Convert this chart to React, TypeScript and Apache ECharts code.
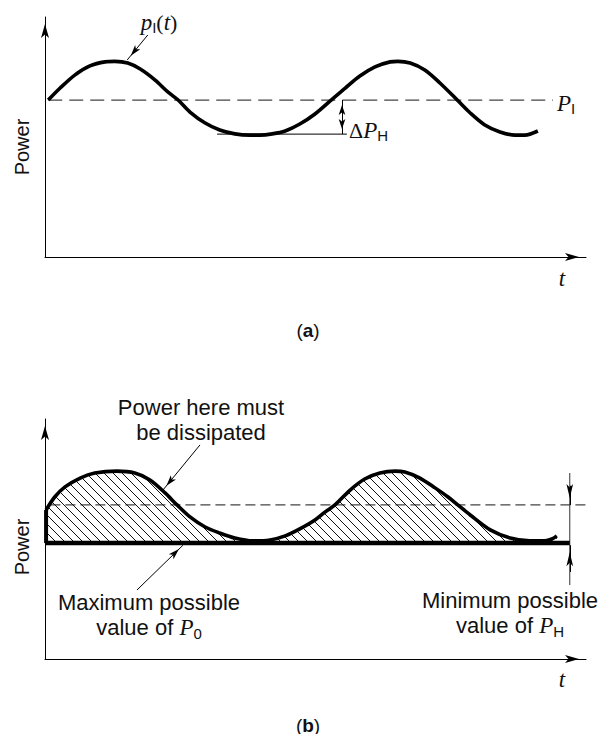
import React, { useEffect, useRef } from "react";
import * as echarts from "echarts";

// ---- Data (t in arbitrary units 0..100, power in arbitrary units 0..100) ----
// Panel (a): instantaneous power p_I(t)
const tA = [0.6, 2.8, 5.5, 8.3, 11.1, 12.9, 15.3, 17.6, 20.3, 22.7, 24.6, 26.8, 29.6, 32.3, 35.1, 37.9, 39.7, 42.0, 44.4, 47.1, 49.9, 52.9, 55.5, 58.2, 61.0, 63.8, 65.2, 67.5, 70.2, 73.0, 76.2, 78.6, 81.3, 84.1, 86.9, 88.7, 91.1];
const powerA = [65.4, 70.4, 75.8, 79.6, 81.3, 81.5, 80.8, 78.3, 73.8, 68.8, 65.4, 60.4, 55.8, 52.9, 51.3, 50.8, 50.8, 51.3, 52.5, 55.4, 59.6, 65.4, 70.4, 75.4, 79.2, 81.3, 81.5, 80.8, 77.9, 72.5, 65.4, 60.0, 55.0, 52.1, 50.8, 50.8, 52.5];
const meanA = 65.4; // P_I
const troughA = 51.2; // P_I - ΔP_H
const meanLineA = [0.6, 93.9]; // extent of dashed P_I line
const troughLineA = [31.8, 55.8];

// Panel (b): same waveform, with baseline at its minimum
const tB = [0.2, 1.8, 3.7, 6.5, 9.2, 13.3, 16.6, 19.4, 22.2, 24.4, 26.8, 29.6, 32.3, 35.1, 38.4, 41.6, 44.4, 47.1, 49.9, 51.8, 53.6, 56.4, 59.1, 61.9, 64.7, 66.5, 69.3, 72.1, 74.5, 76.3, 78.6, 82.3, 86.0, 89.6, 92.4, 93.7, 94.6];
const powerB = [62.1, 67.5, 71.7, 75.4, 77.5, 78.3, 77.5, 74.6, 69.2, 64.2, 59.2, 55.0, 52.5, 50.4, 49.2, 49.6, 51.3, 54.2, 57.9, 61.3, 64.2, 70.4, 75.0, 77.5, 78.3, 77.9, 75.4, 71.3, 67.5, 64.2, 60.0, 53.8, 50.4, 49.2, 49.2, 50.0, 51.3];
const meanB = 64.2;
const baseB = 48.3;
const baseLineB = [0, 97.0];
const meanLineB = [1.0, 100];
const markerXB = 97.0;
const markerSpanB = [77.5, 30.8];

// ---- Annotation arrow anchors (data coords) ----
const arrowPA = { from: [19.0, 92.5], to: [15.2, 82.1] };
const deltaArrowX = 54.9;
const arrowDissipated = { from: [28.65, 89.2], to: [21.8, 70.4] };
const arrowMaxP0 = { from: [17.0, 28.75], to: [25.5, 47.4] };

const SANS = '"Liberation Sans", Arial, Helvetica, sans-serif';
const SERIF = '"Liberation Serif", "Times New Roman", serif';

const hatchSvg =
  '<svg xmlns="http://www.w3.org/2000/svg" width="9" height="9">' +
  '<path d="M-1,-1 L10,10 M-1,8 L1,10 M8,-1 L10,1" stroke="#111" stroke-width="1"/></svg>';
const hatchUrl = "data:image/svg+xml;charset=utf-8," + encodeURIComponent(hatchSvg);

const zip = (xs: number[], ys: number[]) => xs.map((x, i) => [x, ys[i]]);

function arrowItem(from: number[], to: number[], both = false, size = [5, 11]) {
  const off = [0, size[1] / 2];
  return [
    { coord: from, symbol: both ? "arrow" : "none", symbolSize: size, symbolOffset: off },
    { coord: to, symbol: "arrow", symbolSize: size, symbolOffset: off },
  ];
}

const markLineBase = {
  silent: true,
  animation: false,
  label: { show: false },
  emphasis: { disabled: true },
  lineStyle: { color: "#000", width: 1, type: "solid" as const },
};

const axisCommon = {
  type: "value" as const,
  min: 0,
  max: 100,
  axisLine: {
    show: true,
    onZero: false,
    lineStyle: { color: "#000", width: 1 },
    symbol: ["none", "arrow"],
    symbolSize: [6, 14],
    symbolOffset: [0, -7],
  },
  axisTick: { show: false },
  axisLabel: { show: false },
  splitLine: { show: false },
};

const mathRich = {
  it: { fontFamily: SERIF, fontStyle: "italic", fontSize: 23, lineHeight: 26, fill: "#111", verticalAlign: "middle" },
  rm: { fontFamily: SERIF, fontSize: 22, lineHeight: 26, fill: "#111" },
  sub: { fontFamily: SANS, fontSize: 15, lineHeight: 26, fill: "#111", verticalAlign: "bottom" },
  n: { fontFamily: SANS, fontSize: 22, lineHeight: 25, fill: "#111" },
  bd: { fontFamily: SANS, fontSize: 19, lineHeight: 22, fontWeight: "bold", fill: "#111" },
  pr: { fontFamily: SANS, fontSize: 19, lineHeight: 22, fill: "#111" },
};

function txt(x: number, y: number, text: string, extra: any = {}) {
  return {
    type: "text",
    x,
    y,
    silent: true,
    style: {
      text,
      rich: mathRich,
      fill: "#111",
      font: `22px ${SANS}`,
      align: "center",
      verticalAlign: "middle",
      ...extra,
    },
  };
}

export default function App() {
  const ref = useRef<HTMLDivElement>(null);
  useEffect(() => {
    if (!ref.current) return;
    const chart = echarts.init(ref.current, null, { renderer: "svg" });
    const option: any = {
      animation: false,
      backgroundColor: "#fff",
      grid: [
        { left: 45, top: 17, width: 541, height: 240 },
        { left: 45, top: 419, width: 541, height: 240 },
      ],
      xAxis: [
        { ...axisCommon, gridIndex: 0 },
        { ...axisCommon, gridIndex: 1 },
      ],
      yAxis: [
        { ...axisCommon, gridIndex: 0 },
        { ...axisCommon, gridIndex: 1 },
      ],
      series: [
        // ---- panel (a) ----
        {
          type: "line",
          xAxisIndex: 0,
          yAxisIndex: 0,
          data: zip(tA, powerA),
          smooth: 0.3,
          symbol: "none",
          z: 5,
          lineStyle: { color: "#000", width: 3.6 },
          markLine: {
            ...markLineBase,
            data: [
              arrowItem(arrowPA.from, arrowPA.to),
              arrowItem([deltaArrowX, meanA], [deltaArrowX, troughA], true, [5, 10]),
            ],
          },
        },
        {
          type: "line",
          xAxisIndex: 0,
          yAxisIndex: 0,
          data: [[meanLineA[0], meanA], [meanLineA[1], meanA]],
          symbol: "none",
          z: 2,
          lineStyle: { color: "#444", width: 1.3, type: [14, 7] },
        },
        {
          type: "line",
          xAxisIndex: 0,
          yAxisIndex: 0,
          data: [[troughLineA[0], troughA], [troughLineA[1], troughA]],
          symbol: "none",
          z: 2,
          lineStyle: { color: "#000", width: 1 },
        },
        // ---- panel (b) ----
        {
          type: "line",
          xAxisIndex: 1,
          yAxisIndex: 1,
          data: zip(tB, powerB),
          smooth: 0.3,
          symbol: "none",
          z: 5,
          lineStyle: { color: "#000", width: 3.6 },
          areaStyle: {
            origin: baseB,
            opacity: 1,
            color: { image: hatchUrl, repeat: "repeat", imageWidth: 9, imageHeight: 9 },
          },
          markLine: {
            ...markLineBase,
            data: [
              arrowItem(arrowDissipated.from, arrowDissipated.to),
              arrowItem(arrowMaxP0.from, arrowMaxP0.to),
            ],
          },
        },
        {
          type: "line",
          xAxisIndex: 1,
          yAxisIndex: 1,
          data: [[baseLineB[0], baseB], [baseLineB[1], baseB]],
          symbol: "none",
          z: 6,
          lineStyle: { color: "#000", width: 4.5 },
        },
        {
          type: "line",
          xAxisIndex: 1,
          yAxisIndex: 1,
          data: [[tB[0], baseB], [tB[0], powerB[0]]],
          symbol: "none",
          z: 6,
          lineStyle: { color: "#000", width: 4 },
        },
        {
          type: "line",
          xAxisIndex: 1,
          yAxisIndex: 1,
          data: [[meanLineB[0], meanB], [meanLineB[1], meanB]],
          symbol: "none",
          z: 2,
          lineStyle: { color: "#444", width: 1.3, type: [10, 5] },
        },
        {
          type: "line",
          xAxisIndex: 1,
          yAxisIndex: 1,
          data: [[markerXB, markerSpanB[0]], [markerXB, markerSpanB[1]]],
          symbol: "none",
          z: 2,
          lineStyle: { color: "#333", width: 1 },
          markLine: {
            ...markLineBase,
            data: [
              arrowItem([markerXB, meanB + 8], [markerXB, meanB], false, [5, 14]),
              arrowItem([markerXB, baseB - 12], [markerXB, baseB - 0.9], false, [5, 14]),
            ],
          },
        },
      ],
      graphic: [
        // panel (a)
        txt(22, 147, "Power", { font: `20px ${SANS}` }),
        txt(159, 22, "{it|p}{sub|I}{rm|(}{it|t}{rm|)}"),
        txt(557, 103, "{it|P}{sub|I}", { align: "left" }),
        txt(349, 130, "{rm|Δ}{it|P}{sub|H}", { align: "left" }),
        txt(562, 278, "{it|t}"),
        txt(308, 330, "{pr|(}{bd|a}{pr|)}"),
        // panel (b)
        txt(22, 547, "Power", { font: `20px ${SANS}` }),
        txt(201, 420, "{n|Power here must}\n{n|be dissipated}"),
        txt(149, 615, "{n|Maximum possible}\n{n|value of }{it|P}{sub|0}"),
        txt(510, 613, "{n|Minimum possible}\n{n|value of }{it|P}{sub|H}"),
        txt(562, 679, "{it|t}"),
        txt(308, 725, "{pr|(}{bd|b}{pr|)}"),
      ],
    };
    // rotate the axis titles
    option.graphic[0].rotation = Math.PI / 2;
    option.graphic[6].rotation = Math.PI / 2;
    chart.setOption(option);
    return () => chart.dispose();
  }, []);
  return (
    <div
      ref={ref}
      style={{ position: "fixed", left: 0, top: 0, width: 598, height: 734, background: "#fff" }}
    />
  );
}
